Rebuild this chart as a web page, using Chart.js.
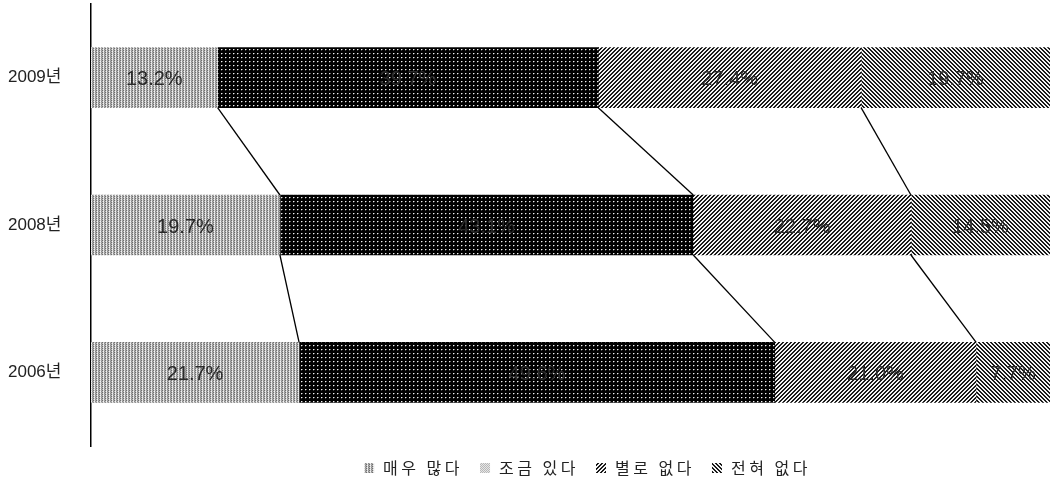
<!DOCTYPE html>
<html>
<head>
<meta charset="utf-8">
<script src="https://cdn.jsdelivr.net/npm/chart.js@4/dist/chart.umd.min.js"></script>
<style>
  html, body { margin: 0; padding: 0; background: #fff; }
  #wrap { width: 1050px; height: 493px; }
</style>
</head>
<body>
<div id="wrap"><canvas id="c" width="1050" height="493"></canvas></div>
<script>
// Survey years (top to bottom) and answer shares in percent
const years = ['2009년', '2008년', '2006년'];
const seriesNames = ['매우 많다', '조금 있다', '별로 없다', '전혀 없다'];
const veryMuch = [13.2, 19.7, 21.7];
const somewhat = [39.7, 43.1, 49.6];
const notMuch  = [27.4, 22.7, 21.0];
const notAtAll = [19.7, 14.5, 7.7];

const FONT = '"Liberation Sans", Arial, "Noto Sans CJK KR", sans-serif';
const KFONT = '"Noto Sans CJK KR", "Liberation Sans", sans-serif';

// Small pixel tiles used as fills
function tile(w, h, paint) {
  const cv = document.createElement('canvas');
  cv.width = w; cv.height = h;
  const g = cv.getContext('2d');
  for (let y = 0; y < h; y++) {
    for (let x = 0; x < w; x++) {
      g.fillStyle = paint(x, y);
      g.fillRect(x, y, 1, 1);
    }
  }
  return document.getElementById('c').getContext('2d').createPattern(cv, 'repeat');
}

const lightDots = tile(3, 2, (x, y) => {
  const m = [['#6e6e6e', '#d4d4d4', '#a8a8a8'], ['#b4b4b4', '#f4f4f4', '#8c8c8c']];
  return m[y][x];
});
const darkDots = tile(4, 4, (x, y) => {
  if (x === 1 && y === 1) return '#f0f0f0';
  if (x === 2 && y === 1) return '#6a6a6a';
  if (x === 1 && y === 2) return '#404040';
  return '#000000';
});
const hatchUp = tile(4, 4, (x, y) => ((x + y) % 4 < 2 ? '#1a1a1a' : '#f4f4f4'));
const hatchDown = tile(4, 4, (x, y) => (((x - y) % 4 + 4) % 4 < 2 ? '#1a1a1a' : '#f4f4f4'));
const legendLight = tile(2, 2, (x, y) => ((x + y) % 2 ? '#e6e6e6' : '#b8b8b8'));

const fills = [lightDots, darkDots, hatchUp, hatchDown];
const legendFills = [lightDots, legendLight, hatchUp, hatchDown];
const values = [veryMuch, somewhat, notMuch, notAtAll];

// Percentage text centred in each segment
const segmentLabels = {
  id: 'segmentLabels',
  afterDatasetsDraw(chart) {
    const ctx = chart.ctx;
    ctx.save();
    ctx.font = '20px ' + FONT;
    ctx.fillStyle = '#2a2a2a';
    ctx.textAlign = 'center';
    ctx.textBaseline = 'middle';
    chart.data.datasets.forEach((ds, di) => {
      chart.getDatasetMeta(di).data.forEach((bar, i) => {
        const p = bar.getProps(['x', 'y', 'base'], true);
        ctx.fillText(ds.data[i].toFixed(1) + '%', (p.x + p.base) / 2, p.y + 2);
      });
    });
    ctx.restore();
  }
};

// Lines joining the segment boundaries of neighbouring bars
const seriesLines = {
  id: 'seriesLines',
  afterDatasetsDraw(chart) {
    const ctx = chart.ctx;
    const n = chart.data.labels.length;
    ctx.save();
    ctx.strokeStyle = '#000';
    ctx.lineWidth = 1.3;
    for (let di = 0; di < chart.data.datasets.length - 1; di++) {
      const bars = chart.getDatasetMeta(di).data;
      for (let i = 0; i < n - 1; i++) {
        const a = bars[i].getProps(['x', 'y', 'height'], true);
        const b = bars[i + 1].getProps(['x', 'y', 'height'], true);
        ctx.beginPath();
        ctx.moveTo(a.x, a.y + a.height / 2);
        ctx.lineTo(b.x, b.y - b.height / 2);
        ctx.stroke();
      }
    }
    ctx.restore();
  }
};

// Legend row under the plot: swatch + series name
const bottomLegend = {
  id: 'bottomLegend',
  afterDraw(chart) {
    const ctx = chart.ctx;
    const box = 10, gapText = 9, gapItem = 17;
    ctx.save();
    ctx.font = '16px ' + KFONT;
    ctx.letterSpacing = '3.5px';
    ctx.textBaseline = 'middle';
    ctx.textAlign = 'left';
    const names = chart.data.datasets.map(d => d.label);
    const widths = names.map(t => ctx.measureText(t).width);
    const total = widths.reduce((s, w) => s + box + gapText + w, 0) + gapItem * (names.length - 1);
    const area = chart.chartArea;
    let x = (area.left + area.right) / 2 + 17 - total / 2;
    const y = 468;
    names.forEach((t, k) => {
      ctx.fillStyle = legendFills[k];
      ctx.fillRect(x, y - box / 2, box, box);
      x += box + gapText;
      ctx.fillStyle = '#222';
      ctx.fillText(t, x, y);
      x += widths[k] + gapItem;
    });
    ctx.restore();
  }
};

new Chart(document.getElementById('c'), {
  type: 'bar',
  data: {
    labels: years,
    datasets: seriesNames.map((name, k) => ({
      label: name,
      data: values[k],
      backgroundColor: fills[k],
      borderWidth: 0,
      barThickness: 60
    }))
  },
  options: {
    indexAxis: 'y',
    responsive: false,
    animation: false,
    layout: { autoPadding: false, padding: { left: 8, right: 0, top: 4, bottom: 47 } },
    scales: {
      x: { stacked: true, min: 0, max: 100, display: false },
      y: {
        stacked: true,
        grid: { display: false, drawTicks: false },
        border: { display: true, color: '#000', width: 1.5 },
        ticks: { padding: 0, crossAlign: 'far', color: '#222', font: { size: 17, family: FONT } },
        afterFit(scale) {
          scale.width = 83;
          scale.paddingTop = 0;
          scale.paddingBottom = 0;
        }
      }
    },
    plugins: {
      tooltip: { enabled: false },
      legend: { display: false }
    }
  },
  plugins: [seriesLines, segmentLabels, bottomLegend]
});
</script>
</body>
</html>
